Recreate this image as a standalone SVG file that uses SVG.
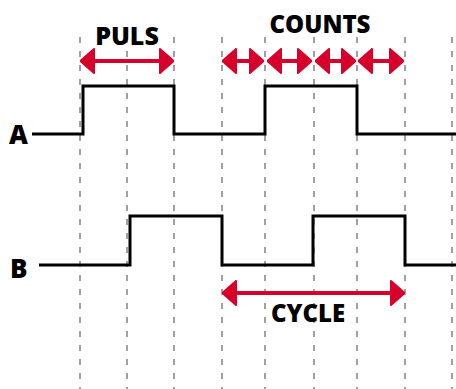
<svg xmlns="http://www.w3.org/2000/svg" width="456" height="389" viewBox="0 0 456 389">
<style>
.grid{stroke:#a0a0a0;stroke-width:2;stroke-dasharray:6 8;fill:none}
.sig{stroke:#000;stroke-width:3;fill:none;stroke-linejoin:miter}
.arr{stroke:#d7002b;stroke-width:4;fill:none;marker-start:url(#ah);marker-end:url(#ah)}
.lbl{font-family:"Open Sans","DejaVu Sans",sans-serif;font-weight:800;fill:#000}
</style>
<defs>
<marker id="ah" viewBox="0 0 15 26" refX="3" refY="13" markerWidth="15" markerHeight="26" markerUnits="userSpaceOnUse" orient="auto-start-reverse">
<path d="M1,1 L14.5,13 L1,25 Z" fill="#d7002b" stroke="#d7002b" stroke-width="2" stroke-linejoin="round"/>
</marker>
</defs>
<g id="grid">
<line class="grid" x1="80" y1="37" x2="80" y2="389"/>
<line class="grid" x1="127" y1="37" x2="127" y2="389"/>
<line class="grid" x1="174" y1="37" x2="174" y2="389"/>
<line class="grid" x1="222" y1="37" x2="222" y2="389"/>
<line class="grid" x1="265" y1="37" x2="265" y2="389"/>
<line class="grid" x1="314" y1="37" x2="314" y2="389"/>
<line class="grid" x1="357" y1="37" x2="357" y2="389"/>
<line class="grid" x1="405" y1="37" x2="405" y2="389"/>
<line class="grid" x1="452" y1="37" x2="452" y2="389"/>
</g>
<g id="signalA">
<text class="lbl" x="9" y="144" font-size="26">A</text>
<path class="sig" d="M32,134 H83 V86 H174 V134 H265 V86 H357 V134 H456"/>
</g>
<g id="signalB">
<text class="lbl" x="10" y="278" font-size="26">B</text>
<path class="sig" d="M39,265 H130 V216 H222 V265 H313 V216 H405 V265 H456"/>
</g>
<g id="connectors">
<line class="arr" x1="92" y1="61" x2="162" y2="61"/>
<line class="arr" x1="234" y1="61" x2="252" y2="61"/>
<line class="arr" x1="279" y1="61" x2="300" y2="61"/>
<line class="arr" x1="327" y1="61" x2="344" y2="61"/>
<line class="arr" x1="370" y1="61" x2="392" y2="61"/>
<line class="arr" x1="234" y1="293" x2="393" y2="293"/>
</g>
<g id="labels">
<text class="lbl" x="127" y="45" font-size="25" text-anchor="middle">PULS</text>
<text class="lbl" x="320" y="33" font-size="24" text-anchor="middle">COUNTS</text>
<text class="lbl" x="308" y="322" font-size="24" text-anchor="middle">CYCLE</text>
</g>
</svg>
